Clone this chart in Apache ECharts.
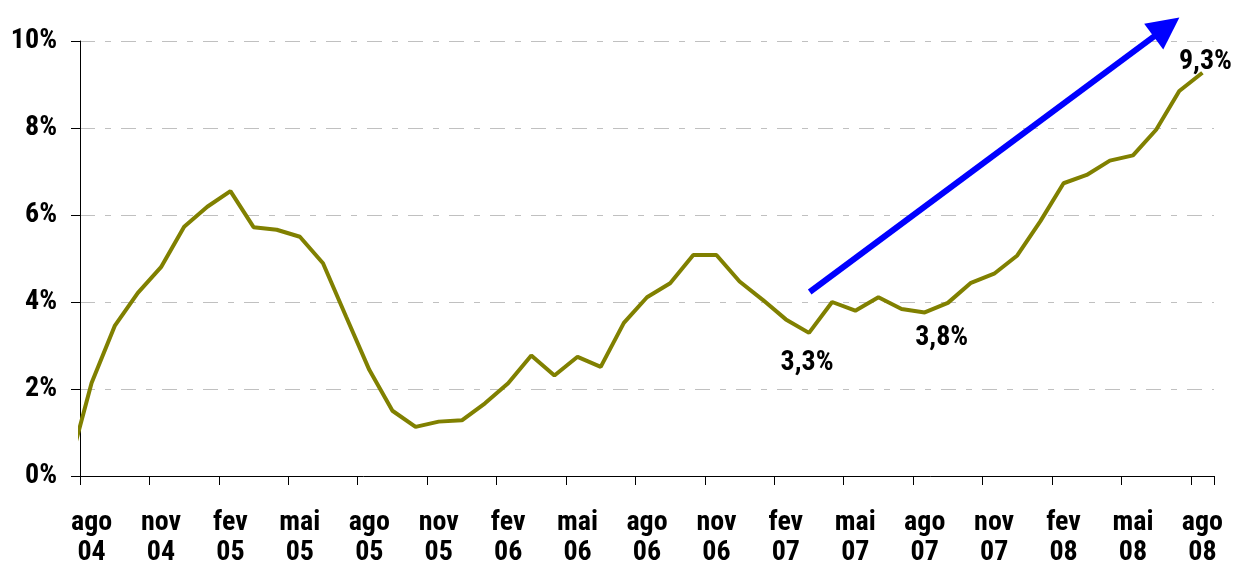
<!DOCTYPE html>
<html>
<head>
<meta charset="utf-8">
<script src="https://cdn.jsdelivr.net/npm/echarts@6/dist/echarts.min.js"></script>
<style>
html,body{margin:0;padding:0;background:#fff;}
#chart{width:1234px;height:567px;}
</style>
</head>
<body>
<div id="chart"></div>
<script>
// Categories: monthly, ago 04 .. ago 08
const categories = [
  'ago\n04','set\n04','out\n04','nov\n04','dez\n04',
  'jan\n05','fev\n05','mar\n05','abr\n05','mai\n05','jun\n05','jul\n05','ago\n05','set\n05','out\n05','nov\n05','dez\n05',
  'jan\n06','fev\n06','mar\n06','abr\n06','mai\n06','jun\n06','jul\n06','ago\n06','set\n06','out\n06','nov\n06','dez\n06',
  'jan\n07','fev\n07','mar\n07','abr\n07','mai\n07','jun\n07','jul\n07','ago\n07','set\n07','out\n07','nov\n07','dez\n07',
  'jan\n08','fev\n08','mar\n08','abr\n08','mai\n08','jun\n08','jul\n08','ago\n08'
];
// value of the month before the first category (jul 04), partly visible at the left edge
const previousValue = 0.15;
// series values (%), one per category
const values = [
  2.14, 3.45, 4.21, 4.80, 5.73,
  6.19, 6.55, 5.72, 5.66, 5.50, 4.89, 3.66, 2.44, 1.50, 1.13, 1.25, 1.28,
  1.67, 2.13, 2.77, 2.31, 2.74, 2.51, 3.52, 4.11, 4.43, 5.08, 5.08, 4.47,
  4.05, 3.60, 3.29, 4.00, 3.80, 4.11, 3.84, 3.76, 3.98, 4.44, 4.65, 5.07,
  5.86, 6.73, 6.92, 7.25, 7.37, 7.96, 8.85, 9.27
];
const yTicks = [0, 2, 4, 6, 8, 10];
// annotated points (category label)
const annotated = ['mar\n07', 'ago\n07', 'ago\n08'];
// trend arrow, in data units [category index, %]
const arrowStart = [31.03, 4.23];
const arrowEnd = [46.45, 10.32];

const FONT = "'Liberation Sans Narrow', 'Arial Narrow', 'Noto Sans Condensed', 'Roboto Condensed', 'Open Sans Condensed', 'DejaVu Sans Condensed', 'Liberation Sans', sans-serif";
const labelStyles = {
  'mar\n07': {position: 'bottom', distance: 10, offset: [-2, 6]},
  'ago\n07': {position: 'bottom', distance: 4, offset: [17, 8]},
  'ago\n08': {position: 'top', distance: 2, offset: [3, 5]}
};
const fmt = v => v.toFixed(1).replace('.', ',') + '%';

const lineData = [[-1, previousValue]].concat(values.map((v, i) => [i, v]));
const labelData = annotated.map(cat => {
  const i = categories.indexOf(cat);
  const s = labelStyles[cat];
  return {
    value: [i, values[i]],
    label: {
      show: true, position: s.position, distance: s.distance, offset: s.offset,
      formatter: p => fmt(p.value[1]),
      fontFamily: FONT, fontWeight: 'bold', fontSize: 28, color: '#000',
      opacity: 1, textBorderWidth: 0
    }
  };
});

const chart = echarts.init(document.getElementById('chart'), null, {renderer: 'canvas'});
chart.setOption({
  animation: false,
  backgroundColor: '#fff',
  grid: {left: 80, right: 20, top: 41, bottom: 91, containLabel: false, outerBoundsMode: 'none'},
  xAxis: [{
    type: 'category',
    data: categories,
    boundaryGap: true,
    axisLine: {onZero: false, lineStyle: {color: '#000', width: 1}},
    axisTick: {show: true, interval: 2, length: 9, lineStyle: {color: '#000'}},
    axisLabel: {
      interval: 2, margin: 32, color: '#000',
      fontFamily: FONT, fontWeight: 'bold', fontSize: 28, lineHeight: 30
    },
    splitLine: {show: false}
  }, {
    type: 'value',
    min: -0.5, max: categories.length - 0.5,
    show: false
  }],
  yAxis: {
    type: 'value',
    min: yTicks[0], max: yTicks[yTicks.length - 1], interval: 2,
    axisLine: {show: true, onZero: false, lineStyle: {color: '#000', width: 1}},
    axisTick: {show: true, length: 9, lineStyle: {color: '#000'}},
    axisLabel: {
      margin: 23, color: '#000', formatter: '{value}%',
      fontFamily: FONT, fontWeight: 'bold', fontSize: 28
    },
    splitLine: {
      show: true,
      lineStyle: {color: '#c0c0c0', width: 1, type: [15, 10, 6, 10]}
    }
  },
  series: [{
    type: 'line',
    xAxisIndex: 1,
    data: lineData,
    clip: true,
    symbol: 'none',
    showSymbol: false,
    lineStyle: {color: '#808000', width: 4},
    itemStyle: {color: '#808000'},
    z: 3
  }, {
    type: 'scatter',
    xAxisIndex: 1,
    data: labelData,
    symbolSize: 0.1,
    itemStyle: {color: '#000', opacity: 1},
    silent: true,
    clip: false,
    z: 5
  }, {
    type: 'lines',
    coordinateSystem: 'cartesian2d',
    xAxisIndex: 1,
    clip: false,
    symbol: ['none', 'triangle'],
    symbolSize: 32,
    lineStyle: {color: '#0000ff', width: 6, opacity: 1, curveness: 0},
    itemStyle: {color: '#0000ff'},
    data: [{coords: [arrowStart, arrowEnd]}],
    silent: true,
    z: 4
  }]
});
</script>
</body>
</html>
